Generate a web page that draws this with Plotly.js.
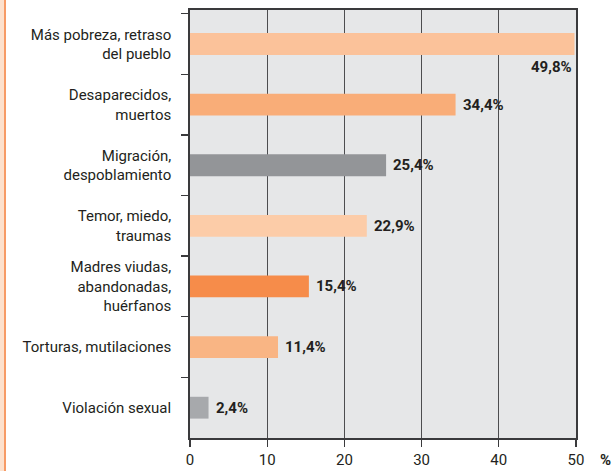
<!DOCTYPE html>
<html>
<head>
<meta charset="utf-8">
<script src="https://cdn.plot.ly/plotly-3.0.1.min.js"></script>
<style>
  html, body { margin: 0; padding: 0; background: #fff; }
  #chart { width: 615px; height: 471px; }
  #stripe { position: absolute; left: 0; top: 0; width: 4px; height: 471px; background: #fde1cd; border-right: 2px solid #f79b66; z-index: 10; }
</style>
</head>
<body>
<div id="chart"></div>
<div id="stripe"></div>
<script>
const categories = [
  "Más pobreza, retraso<br>del pueblo",
  "Desaparecidos,<br>muertos",
  "Migración,<br>despoblamiento",
  "Temor, miedo,<br>traumas",
  "Madres viudas,<br>abandonadas,<br>huérfanos",
  "Torturas, mutilaciones",
  "Violación sexual"
];
const values = [49.8, 34.4, 25.4, 22.9, 15.4, 11.4, 2.4];
const valueLabels = ["49,8%", "34,4%", "25,4%", "22,9%", "15,4%", "11,4%", "2,4%"];
const barColors = ["#fbc29a", "#f9ad78", "#939598", "#fccca8", "#f68c4a", "#f9b584", "#a7a9ac"];
const xTicks = [0, 10, 20, 30, 40, 50];

const txtColor = "#231f20";
const lineColor = "#4d4d4f";
const fam = "Roboto, sans-serif";

const trace = {
  type: "bar",
  orientation: "h",
  x: values,
  y: categories,
  marker: { color: barColors, line: { width: 0 } },
  hoverinfo: "none"
};

const annotations = values.map((v, i) => {
  const first = i === 0;
  return {
    x: v, y: categories[i], xref: "x", yref: "y",
    text: "<b>" + valueLabels[i] + "</b>",
    showarrow: false,
    xanchor: first ? "right" : "left",
    yanchor: "middle",
    xshift: first ? 0 : 5,
    yshift: first ? -23 : 0,
    font: { family: fam, size: 15, color: txtColor }
  };
});
annotations.push({
  x: 1, y: 0, xref: "paper", yref: "paper",
  text: "<b>%</b>", showarrow: false,
  xanchor: "left", yanchor: "top", xshift: 22, yshift: -11,
  font: { family: fam, size: 15, color: txtColor }
});

const layout = {
  width: 615, height: 471,
  margin: { l: 190, r: 39, t: 10, b: 33 },
  paper_bgcolor: "#ffffff",
  plot_bgcolor: "#e6e7e8",
  showlegend: false,
  bargap: 0.64,
  font: { family: fam, size: 15, color: txtColor },
  xaxis: {
    range: [0, 50],
    tickvals: xTicks,
    ticktext: xTicks.map(String),
    showgrid: true, gridcolor: lineColor, gridwidth: 1.3,
    showline: true, linecolor: "#3a3a3c", linewidth: 1.8, mirror: true,
    ticks: "outside", ticklen: 7, tickcolor: "#3a3a3c", tickwidth: 1.3,
    zeroline: false,
    tickfont: { family: fam, size: 15, color: txtColor }
  },
  yaxis: {
    type: "category",
    autorange: "reversed",
    showgrid: false,
    showline: true, linecolor: "#3a3a3c", linewidth: 1.8, mirror: true,
    ticks: "outside", tickson: "boundaries", ticklen: 7, tickcolor: "#3a3a3c", tickwidth: 1.3,
    ticklabelstandoff: 14,
    tickfont: { family: fam, size: 15, color: txtColor }
  },
  annotations: annotations
};

Plotly.newPlot("chart", [trace], layout, { displayModeBar: false, staticPlot: true });
</script>
</body>
</html>
